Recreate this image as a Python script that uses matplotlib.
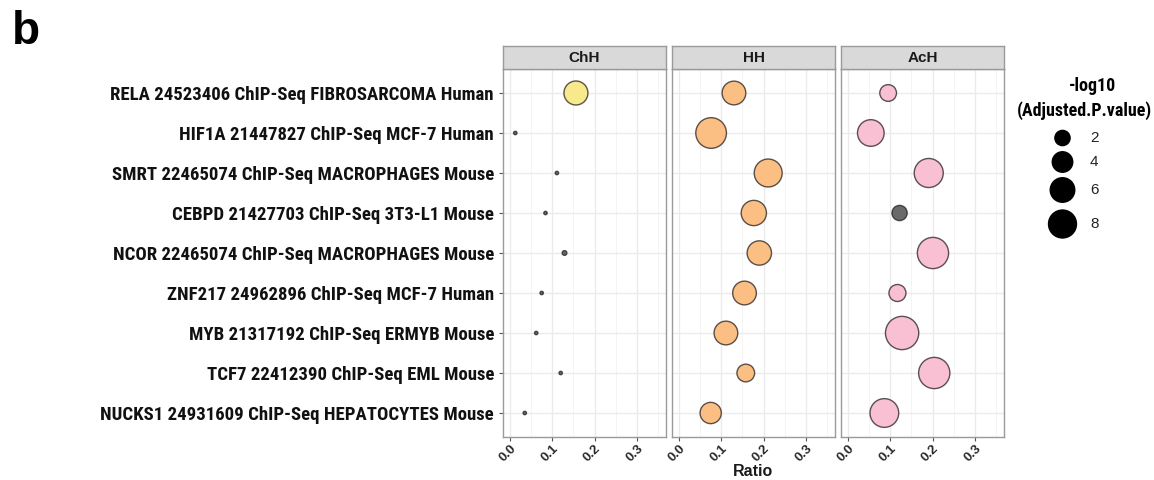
import numpy as np
import matplotlib.pyplot as plt
from matplotlib import font_manager

# enrichment terms, top to bottom
terms = ["RELA 24523406 ChIP-Seq FIBROSARCOMA Human",
         "HIF1A 21447827 ChIP-Seq MCF-7 Human",
         "SMRT 22465074 ChIP-Seq MACROPHAGES Mouse",
         "CEBPD 21427703 ChIP-Seq 3T3-L1 Mouse",
         "NCOR 22465074 ChIP-Seq MACROPHAGES Mouse",
         "ZNF217 24962896 ChIP-Seq MCF-7 Human",
         "MYB 21317192 ChIP-Seq ERMYB Mouse",
         "TCF7 22412390 ChIP-Seq EML Mouse",
         "NUCKS1 24931609 ChIP-Seq HEPATOCYTES Mouse"]
groups = ["ChH", "HH", "AcH"]

chh_ratio = [0.156, 0.0125, 0.111, 0.084, 0.129, 0.075, 0.062, 0.120, 0.035]
chh_logp = [5.7, 0.01, 0.01, 0.01, 0.06, 0.01, 0.01, 0.01, 0.01]
chh_sig = [1, 0, 0, 0, 0, 0, 0, 0, 0]

hh_ratio = [0.130, 0.076, 0.211, 0.177, 0.190, 0.155, 0.111, 0.158, 0.075]
hh_logp = [5.55, 9.8, 8.0, 6.4, 5.9, 5.55, 5.55, 2.85, 4.35]
hh_sig = [1, 1, 1, 1, 1, 1, 1, 1, 1]

ach_ratio = [0.095, 0.054, 0.191, 0.122, 0.201, 0.117, 0.128, 0.204, 0.086]
ach_logp = [2.5, 7.2, 8.7, 2.0, 10.2, 2.6, 11.7, 10.2, 8.5]
ach_sig = [1, 1, 1, 0, 1, 1, 1, 1, 1]

size_breaks = [2, 4, 6, 8]
x_ticks = [0.0, 0.1, 0.2, 0.3]

fills = {"ChH": "#f8e98c", "HH": "#fbbf84", "AcH": "#f9bfd3"}
grey_fill = "#6a6a6a"

ratios = {"ChH": chh_ratio, "HH": hh_ratio, "AcH": ach_ratio}
logps = {"ChH": chh_logp, "HH": hh_logp, "AcH": ach_logp}
sigs = {"ChH": chh_sig, "HH": hh_sig, "AcH": ach_sig}

names = {f.name for f in font_manager.fontManager.ttflist}
narrow = "Liberation Sans"
for cand in ["Liberation Sans Narrow", "DejaVu Sans Condensed", "Roboto Condensed"]:
    if cand in names:
        narrow = cand
        break
plt.rcParams['font.family'] = ["Liberation Sans", "DejaVu Sans"]

DPI = 100
W, H = 1154, 480


def area(v):
    d = 3.5 + 9.0 * np.sqrt(np.asarray(v, dtype=float)) - 1.0
    return (d * 72.0 / DPI) ** 2


fig = plt.figure(figsize=(W / DPI, H / DPI), dpi=DPI)

lefts = [503, 672, 841]
pw = 163
top, bottom = 69, 437
n = len(terms)
ypos = np.arange(n)[::-1] + 1

for k, g in enumerate(groups):
    ax = fig.add_axes([lefts[k] / W, 1 - bottom / H, pw / W, (bottom - top) / H])
    ax.set_xlim(-0.0165, 0.369)
    ax.set_ylim(0.4, n + 0.6)
    ax.set_xticks(x_ticks)
    ax.set_xticks([0.05, 0.15, 0.25, 0.35], minor=True)
    ax.set_yticks(ypos)
    ax.grid(True, which='major', color='#ebebeb', lw=1.0)
    ax.grid(True, which='minor', axis='x', color='#f3f3f3', lw=0.6)
    ax.set_axisbelow(True)
    ax.tick_params(which='minor', length=0)
    ax.tick_params(which='major', length=3, width=0.8, color='#555555')
    ax.tick_params(axis='x', pad=1)
    for sp in ax.spines.values():
        sp.set_color('#9a9a9a')
        sp.set_linewidth(1.0)
    ax.set_xticklabels(["{:.1f}".format(t) for t in x_ticks], rotation=45,
                       ha='right', va='top', rotation_mode='anchor',
                       fontsize=9.5, fontweight='bold', color='#2a2a2a')
    if k == 0:
        ax.set_yticklabels(terms, fontsize=13.5, fontweight='bold',
                           family=[narrow, "DejaVu Sans"], color='#111111')
    else:
        ax.set_yticklabels([])
        ax.tick_params(axis='y', length=0)
    cols = [fills[g] if s else grey_fill for s in sigs[g]]
    ax.scatter(ratios[g], ypos, s=area(logps[g]), c=cols,
               edgecolors=(0.15, 0.12, 0.12, 0.75), linewidths=1.0, zorder=3)
    # facet strip
    sax = fig.add_axes([lefts[k] / W, 1 - top / H, pw / W, 23 / H])
    sax.set_facecolor('#d9d9d9')
    sax.set_xticks([])
    sax.set_yticks([])
    for sp in sax.spines.values():
        sp.set_color('#9a9a9a')
        sp.set_linewidth(1.0)
    sax.text(0.5, 0.5, g, ha='center', va='center', fontsize=11,
             fontweight='bold', color='#1a1a1a', transform=sax.transAxes)

fig.text((lefts[1] + pw / 2) / W, 1 - 471 / H, "Ratio", ha='center', va='center',
         fontsize=11.5, fontweight='bold', color='#1a1a1a')

# size legend
lax = fig.add_axes([1005 / W, 0, 149 / W, 1])
lax.set_xlim(1005, 1154)
lax.set_ylim(H, 0)
lax.axis('off')
lax.text(1092, 86, "-log10", ha='center', va='center', fontsize=13,
         fontweight='bold', family=[narrow, "DejaVu Sans"])
lax.text(1084, 111, "(Adjusted.P.value)", ha='center', va='center',
         fontsize=13, fontweight='bold', family=[narrow, "DejaVu Sans"])
key_y = [138, 162, 190, 224]
lax.scatter([1062.5] * len(size_breaks), key_y, s=area(size_breaks),
            c='black', edgecolors='black', linewidths=1.0)
for v, yy in zip(size_breaks, key_y):
    lax.text(1090, yy, str(v), ha='left', va='center', fontsize=11, color='#222222')

fig.text(12 / W, 1 - 32 / H, "b", fontsize=33, fontweight='bold', ha='left', va='center')

plt.savefig("out.png", dpi=DPI)
